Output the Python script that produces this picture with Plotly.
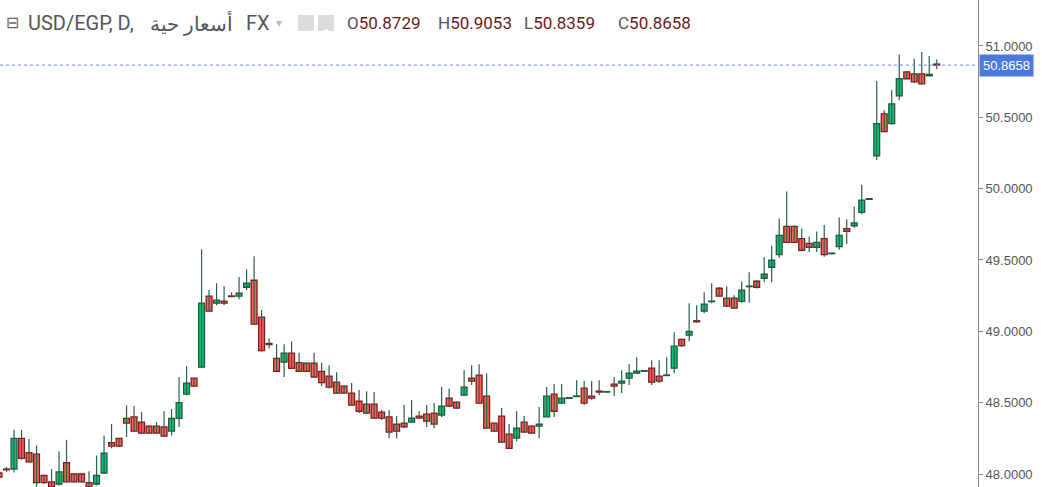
import plotly.graph_objects as go

opens = [48.007, 48.035, 48.035, 48.25, 48.15, 48.14, 47.99, 47.945, 47.93, 48.08,
         48.0, 48.0, 47.94, 47.93, 48.007, 48.22, 48.25, 48.39, 48.40, 48.364,
         48.336, 48.336, 48.33, 48.30, 48.39, 48.56, 48.672, 48.749, 49.246, 49.197,
         49.211, 49.248, 49.246, 49.309, 49.358, 49.10, 48.915, 48.81, 48.785, 48.847,
         48.78, 48.777, 48.777, 48.72, 48.686, 48.644, 48.616, 48.567, 48.51, 48.49,
         48.49, 48.434, 48.40, 48.35, 48.357, 48.364, 48.406, 48.42, 48.427, 48.413,
         48.532, 48.504, 48.553, 48.672, 48.693, 48.546, 48.357, 48.406, 48.28, 48.252,
         48.364, 48.336, 48.336, 48.40, 48.56, 48.497, 48.53, 48.543, 48.602, 48.546,
         48.581, 48.574, 48.63, 48.637, 48.672, 48.707, 48.72, 48.742, 48.686, 48.69,
         48.742, 48.944, 48.973, 49.074, 49.141, 49.208, 49.302, 49.232, 49.232, 49.21,
         49.313, 49.351, 49.372, 49.449, 49.537, 49.735, 49.735, 49.65, 49.616, 49.588,
         49.65, 49.544, 49.593, 49.72, 49.74, 49.833, 49.925, 50.23, 50.524, 50.455,
         50.65, 50.818, 50.804, 50.804, 50.79, 50.8729]
highs = [48.014, 48.05, 48.31, 48.31, 48.245, 48.20, 47.995, 48.035, 48.16, 48.24,
         48.0, 48.0, 48.02, 48.13, 48.27, 48.35, 48.25, 48.48, 48.476, 48.434,
         48.34, 48.364, 48.44, 48.455, 48.68, 48.756, 48.672, 49.575, 49.29, 49.337,
         49.316, 49.274, 49.38, 49.435, 49.526, 49.15, 48.95, 48.91, 48.91, 48.93,
         48.85, 48.78, 48.85, 48.78, 48.763, 48.714, 48.62, 48.637, 48.588, 48.58,
         48.574, 48.448, 48.448, 48.406, 48.483, 48.518, 48.44, 48.483, 48.497, 48.609,
         48.60, 48.51, 48.728, 48.763, 48.77, 48.707, 48.36, 48.462, 48.35, 48.44,
         48.406, 48.34, 48.469, 48.609, 48.63, 48.63, 48.54, 48.658, 48.651, 48.651,
         48.658, 48.58, 48.679, 48.728, 48.77, 48.819, 48.725, 48.798, 48.798, 48.819,
         48.994, 48.95, 49.197, 49.183, 49.274, 49.337, 49.31, 49.316, 49.253, 49.35,
         49.414, 49.36, 49.519, 49.60, 49.79, 49.98, 49.74, 49.72, 49.665, 49.70,
         49.745, 49.55, 49.797, 49.783, 49.874, 50.027, 49.93, 50.755, 50.55, 50.69,
         50.94, 50.82, 50.91, 50.958, 50.93, 50.9053]
lows = [47.972, 48.015, 48.01, 48.10, 48.08, 47.91, 47.93, 47.89, 47.92, 47.94,
        47.94, 47.94, 47.90, 47.92, 48.0, 48.18, 48.19, 48.26, 48.30, 48.28,
        48.28, 48.28, 48.26, 48.27, 48.33, 48.55, 48.61, 48.745, 49.14, 49.183,
        49.183, 49.239, 49.225, 49.288, 49.05, 48.858, 48.88, 48.72, 48.68, 48.74,
        48.72, 48.72, 48.68, 48.616, 48.60, 48.56, 48.56, 48.48, 48.427, 48.42,
        48.39, 48.378, 48.25, 48.25, 48.32, 48.357, 48.39, 48.33, 48.32, 48.40,
        48.47, 48.46, 48.55, 48.623, 48.49, 48.32, 48.30, 48.22, 48.18, 48.23,
        48.29, 48.28, 48.25, 48.40, 48.40, 48.49, 48.53, 48.54, 48.483, 48.52,
        48.553, 48.57, 48.546, 48.567, 48.623, 48.70, 48.715, 48.623, 48.637, 48.69,
        48.707, 48.89, 48.93, 49.06, 49.127, 49.197, 49.24, 49.17, 49.16, 49.20,
        49.20, 49.30, 49.344, 49.344, 49.516, 49.62, 49.62, 49.56, 49.556, 49.556,
        49.523, 49.54, 49.572, 49.612, 49.726, 49.82, 49.925, 50.20, 50.40, 50.45,
        50.62, 50.77, 50.74, 50.73, 50.79, 50.8359]
closes = [47.979, 48.030, 48.25, 48.11, 48.085, 47.94, 47.94, 47.91, 48.015, 47.945,
          47.945, 47.945, 47.91, 47.99, 48.147, 48.196, 48.196, 48.357, 48.30, 48.287,
          48.287, 48.287, 48.266, 48.39, 48.50, 48.637, 48.616, 49.197, 49.141, 49.218,
          49.197, 49.244, 49.267, 49.337, 49.05, 48.865, 48.907, 48.72, 48.847, 48.74,
          48.72, 48.72, 48.68, 48.64, 48.609, 48.567, 48.567, 48.483, 48.44, 48.427,
          48.392, 48.392, 48.294, 48.30, 48.33, 48.392, 48.392, 48.37, 48.35, 48.476,
          48.476, 48.462, 48.609, 48.651, 48.497, 48.322, 48.30, 48.224, 48.18, 48.322,
          48.294, 48.287, 48.35, 48.546, 48.44, 48.532, 48.535, 48.546, 48.497, 48.532,
          48.574, 48.577, 48.616, 48.651, 48.707, 48.721, 48.722, 48.644, 48.651, 48.693,
          48.896, 48.90, 49.0, 49.067, 49.19, 49.211, 49.246, 49.176, 49.162, 49.288,
          49.316, 49.309, 49.40, 49.498, 49.672, 49.623, 49.623, 49.567, 49.588, 49.623,
          49.537, 49.547, 49.672, 49.70, 49.76, 49.92, 49.93, 50.455, 50.40, 50.594,
          50.77, 50.77, 50.748, 50.734, 50.80, 50.8658]

last_price = 50.8658
y_ticks = [48.0, 48.5, 49.0, 49.5, 50.0, 50.5, 51.0]
y_labels = ["48.0000", "48.5000", "49.0000", "49.5000", "50.0000", "50.5000", "51.0000"]

UP_FILL, UP_LINE = "#0fc47a", "#1d5a3c"
DN_FILL, DN_LINE = "#ff5f57", "#7a1c1c"
WICK = "#2b5e47"

idx = list(range(len(opens)))

# wicks as one broken line
wx, wy = [], []
for i in idx:
    wx += [i, i, None]
    wy += [lows[i], highs[i], None]

base = [min(o, c) for o, c in zip(opens, closes)]
height = [max(abs(c - o), 0.004) for o, c in zip(opens, closes)]
up = [c >= o for o, c in zip(opens, closes)]

fig = go.Figure()
fig.add_trace(go.Scatter(x=wx, y=wy, mode="lines", line=dict(color=WICK, width=1.2),
                         hoverinfo="skip", showlegend=False))
fig.add_trace(go.Bar(
    x=idx, y=height, base=base, width=0.78,
    marker=dict(color=[UP_FILL if u else DN_FILL for u in up],
                line=dict(color=[UP_LINE if u else DN_LINE for u in up], width=1.3)),
    showlegend=False,
))

fig.add_shape(type="line", xref="paper", x0=0, x1=1, y0=last_price, y1=last_price,
              line=dict(color="#6a8be6", width=1, dash="dot"))

W = 978.0
def px(x):
    return x / W

ann = [
    dict(x=px(4), text="⊟", font=dict(size=16, color="#666")),
    dict(x=px(26), text="USD/EGP, D,", font=dict(size=20, color="#555")),
    dict(x=px(148), text="أسعار حية", font=dict(size=20, color="#555")),
    dict(x=px(244), text="FX", font=dict(size=20, color="#555")),
    dict(x=px(274), text="▾", font=dict(size=12, color="#bbb")),
    dict(x=px(345), text="O<span style='color:#6b1a1a'>50.8729</span>", font=dict(size=17, color="#555")),
    dict(x=px(436), text="H<span style='color:#6b1a1a'>50.9053</span>", font=dict(size=17, color="#555")),
    dict(x=px(522), text="L<span style='color:#6b1a1a'>50.8359</span>", font=dict(size=17, color="#555")),
    dict(x=px(616), text="C<span style='color:#6b1a1a'>50.8658</span>", font=dict(size=17, color="#555")),
]
annotations = []
for a in ann:
    a.update(xref="paper", yref="paper", y=1 - 23 / 487, xanchor="left", yanchor="middle",
             showarrow=False)
    a["font"]["family"] = "Roboto"
    annotations.append(a)

# small grey icon boxes
for x0, sym in [(298, "◉"), (318, "⚙")]:
    fig.add_shape(type="rect", xref="paper", yref="paper", x0=px(x0), x1=px(x0 + 16),
                  y0=1 - 31 / 487, y1=1 - 15 / 487, fillcolor="#dcdcdc", line=dict(width=0))
    annotations.append(dict(xref="paper", yref="paper", x=px(x0 + 8), y=1 - 23 / 487,
                            text=sym, showarrow=False, font=dict(size=11, color="#fff")))

annotations.append(dict(xref="paper", yref="y", x=1, y=last_price, xanchor="left",
                        text="50.8658", showarrow=False, bgcolor="#4c78e0", borderpad=3,
                        font=dict(size=13, color="white", family="Arial"), xshift=1))

fig.update_layout(
    width=1042, height=487,
    margin=dict(l=0, r=64, t=0, b=0),
    paper_bgcolor="white", plot_bgcolor="white",
    barmode="overlay",
    annotations=annotations,
    xaxis=dict(range=[0.13, 130.5], visible=False),
    yaxis=dict(range=[47.909, 51.322], side="right", tickvals=y_ticks, ticktext=y_labels,
               showgrid=False, zeroline=False, showline=True, linecolor="#888",
               ticks="outside", ticklen=4, tickcolor="#888", automargin=False,
               tickfont=dict(size=13, color="#555", family="Arial")),
)

fig.write_html("out.html", config={"displayModeBar": False},
               post_script="document.body.style.margin='0';")
